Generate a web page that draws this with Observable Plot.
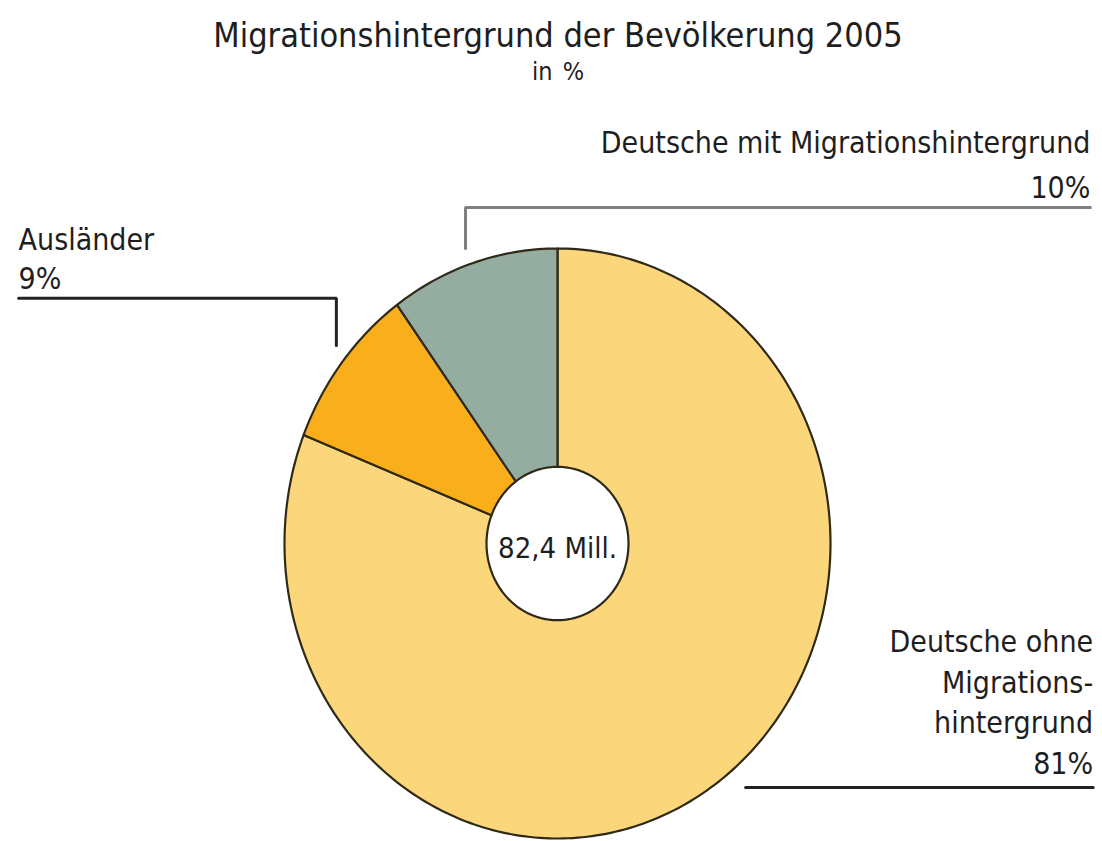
<!DOCTYPE html>
<html>
<head>
<meta charset="utf-8">
<script src="https://cdn.jsdelivr.net/npm/d3@7"></script>
<script src="https://cdn.jsdelivr.net/npm/@observablehq/plot@0.6"></script>
<style>
  html, body { margin: 0; padding: 0; background: #fff; }
  #wrap { width: 1102px; }
  #head { position: relative; height: 90px; width: 1102px; font-family: "DejaVu Sans Condensed", "Liberation Sans Narrow", sans-serif; color: #1e1e1e; }
  #title { position: absolute; left: 0; width: 1102px; top: 14px; text-align: center; font-size: 34px; line-height: 42px; padding-left: 14px; box-sizing: border-box; }
  #sub { position: absolute; left: 0; width: 1102px; top: 58px; text-align: center; font-size: 25px; line-height: 28px; padding-left: 14px; box-sizing: border-box; word-spacing: 3px; }
  svg { display: block; }
</style>
</head>
<body>
<div id="wrap">
  <div id="head"><div id="title"></div><div id="sub"></div></div>
  <div id="chart"></div>
</div>
<script>
// ---- data ----
const titleText = "Migrationshintergrund der Bevölkerung 2005";
const subtitleText = "in %";
const categories = ["Deutsche ohne Migrationshintergrund", "Ausländer", "Deutsche mit Migrationshintergrund"];
const shares = [81, 9, 10];
const labelNames = ["Deutsche ohne\nMigrations-\nhintergrund", "Ausländer", "Deutsche mit Migrationshintergrund"];
const colors = ["#fbd67b", "#f9af1c", "#95ada1"];
const totalLabel = "82,4 Mill.";

document.getElementById("title").textContent = titleText;
document.getElementById("sub").textContent = subtitleText;

// ---- geometry in unit (data) space: angle clockwise from top ----
const W = 1102, H = 751;
const cx = 557, cy = 453, rx = 273, ry = 295;   // layout of the pie in the svg
const innerR = 0.26;
const total = d3.sum(shares);
let acc = 0;
const slices = categories.map((c, i) => {
  const a0 = acc / total * 2 * Math.PI;
  acc += shares[i];
  const a1 = acc / total * 2 * Math.PI;
  const n = Math.max(8, Math.ceil((a1 - a0) / (2 * Math.PI) * 360));
  const pts = [];
  for (let k = 0; k <= n; k++) {
    const a = a0 + (a1 - a0) * k / n;
    pts.push({x: Math.sin(a), y: Math.cos(a)});
  }
  for (let k = n; k >= 0; k--) {
    const a = a0 + (a1 - a0) * k / n;
    pts.push({x: innerR * Math.sin(a), y: innerR * Math.cos(a)});
  }
  return {category: c, color: colors[i], pts};
});

const font = "DejaVu Sans Condensed, Liberation Sans Narrow, sans-serif";
const ink = "#1e1e1e";

// annotation layout (data units)
const leaders = [
  {pts: [{x: -0.337, y: 1.0}, {x: -0.337, y: 1.139}, {x: 1.952, y: 1.139}], stroke: "#808080"},
  {pts: [{x: -1.974, y: 0.831}, {x: -0.810, y: 0.831}, {x: -0.810, y: 0.671}], stroke: "#222"},
  {pts: [{x: 0.689, y: -0.827}, {x: 1.962, y: -0.827}], stroke: "#222"}
];
const labels = [
  {text: `${labelNames[2]}\n${shares[2]}%`, x: 1.952, y: 1.297, anchor: "end", lh: 1.5},
  {text: `${labelNames[1]}\n${shares[1]}%`, x: -1.974, y: 0.971, anchor: "start", lh: 1.3},
  {text: `${labelNames[0]}\n${shares[0]}%`, x: 1.962, y: -0.530, anchor: "end", lh: 1.36}
];

const marks = [];
slices.forEach(s => {
  marks.push(Plot.line(s.pts, {x: "x", y: "y", fill: s.color, stroke: "#2f2a18", strokeWidth: 2.2, curve: "linear-closed", strokeLinejoin: "round"}));
});
leaders.forEach(l => {
  marks.push(Plot.line(l.pts, {x: "x", y: "y", stroke: l.stroke, strokeWidth: 3, strokeLinejoin: "miter"}));
});
labels.forEach(l => {
  marks.push(Plot.text([l], {x: "x", y: "y", text: "text", textAnchor: l.anchor, lineAnchor: "middle", lineHeight: l.lh, fontSize: 30, fontFamily: font, fill: ink}));
});
marks.push(Plot.text([{x: 0, y: -0.017, t: totalLabel}], {x: "x", y: "y", text: "t", fontSize: 29, fontFamily: font, fill: ink}));

const chart = Plot.plot({
  width: W,
  height: H,
  margin: 0,
  x: {domain: [(0 - cx) / rx, (W - cx) / rx], axis: null},
  y: {domain: [(cy - H) / ry, cy / ry], axis: null},
  style: {background: "white", overflow: "visible"},
  marks
});
document.getElementById("chart").appendChild(chart);
</script>
</body>
</html>
